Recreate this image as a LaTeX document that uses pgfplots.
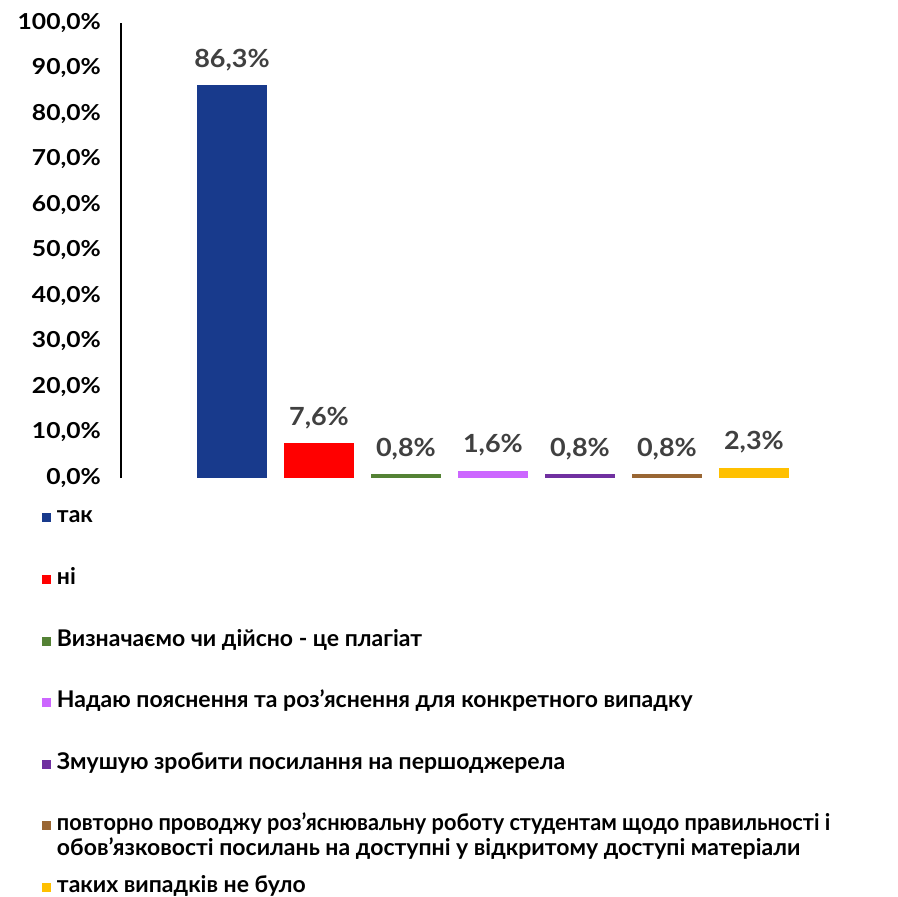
\documentclass[border=0pt]{standalone}
\usepackage{pgfplots}
\pgfplotsset{compat=1.18}
\usepackage{fontspec}
\setmainfont{Lato}
\definecolor{cBlue}{HTML}{183A8C}
\definecolor{cRed}{HTML}{FF0000}
\definecolor{cGreen}{HTML}{548235}
\definecolor{cPink}{HTML}{CC66FF}
\definecolor{cPurple}{HTML}{7030A0}
\definecolor{cBrown}{HTML}{996633}
\definecolor{cYellow}{HTML}{FFC000}
\definecolor{cLabel}{HTML}{404040}
\begin{document}
\begin{tikzpicture}
\begin{axis}[
  scale only axis, width=746pt, height=455pt,
  xmin=-1.276, xmax=7.3, ymin=0, ymax=100,
  axis x line=none, axis y line*=left,
  y axis line style={line width=1.2pt,-},
  xtick=\empty,
  ytick={0,10,...,100}, major tick length=0pt,
  /pgf/number format/assume math mode=true,
  yticklabel={\scalebox{1.12}[1]{\pgfmathprintnumber[fixed,fixed zerofill,precision=1,use comma]{\tick}\%}},
  yticklabel style={font=\fontsize{22}{24}\selectfont\bfseries, inner sep=0pt, xshift=-20pt},
  ybar, bar width=70pt, bar shift=0pt,
  nodes near coords={\scalebox{1.08}[1]{\pgfmathprintnumber[fixed,fixed zerofill,precision=1,use comma]{\pgfplotspointmeta}\%}},
  every node near coord/.append style={font=\fontsize{25}{28}\selectfont\bfseries, text=cLabel, inner sep=0pt, yshift=14pt},
  legend image code/.code={\fill[#1] (0pt,-4.5pt) rectangle (9pt,4.5pt);},
  legend cell align=left,
  legend style={at={(axis description cs:-0.1059,-0.068)}, anchor=north west, draw=none, fill=none,
    inner sep=0pt, outer sep=0pt, row sep=43.6pt, column sep=6pt,
    font=\fontsize{23}{25}\selectfont\bfseries,
    nodes={inner sep=0pt, text height=14pt, text depth=4pt}},
]
\coordinate (O) at (rel axis cs:0,0);
\addplot[fill=cBlue, draw=none] coordinates {(0,86.3)};
\addlegendentry{так}
\addplot[fill=cRed, draw=none] coordinates {(1,7.6)};
\addlegendentry{ні}
\addplot[fill=cGreen, draw=none] coordinates {(2,0.8)};
\addlegendentry{Визначаємо чи дійсно - це плагіат}
\addplot[fill=cPink, draw=none] coordinates {(3,1.6)};
\addlegendentry{Надаю пояснення та роз'яснення для конкретного випадку}
\addplot[fill=cPurple, draw=none] coordinates {(4,0.8)};
\addlegendentry{Змушую зробити посилання на першоджерела}
\addplot[fill=cBrown, draw=none] coordinates {(5,0.8)};
\addlegendentry{\parbox[t]{860pt}{\scalebox{0.945}[1]{повторно проводжу роз'яснювальну роботу студентам щодо правильності і}\\обов'язковості посилань на доступні у відкритому доступі матеріали}}
\addplot[fill=cYellow, draw=none] coordinates {(6,2.3)};
\addlegendentry{таких випадків не було}
\end{axis}
\pgfresetboundingbox
\path[use as bounding box] ([shift={(-121pt,-419pt)}]O) rectangle ([shift={(777pt,478pt)}]O);
\end{tikzpicture}
\end{document}
